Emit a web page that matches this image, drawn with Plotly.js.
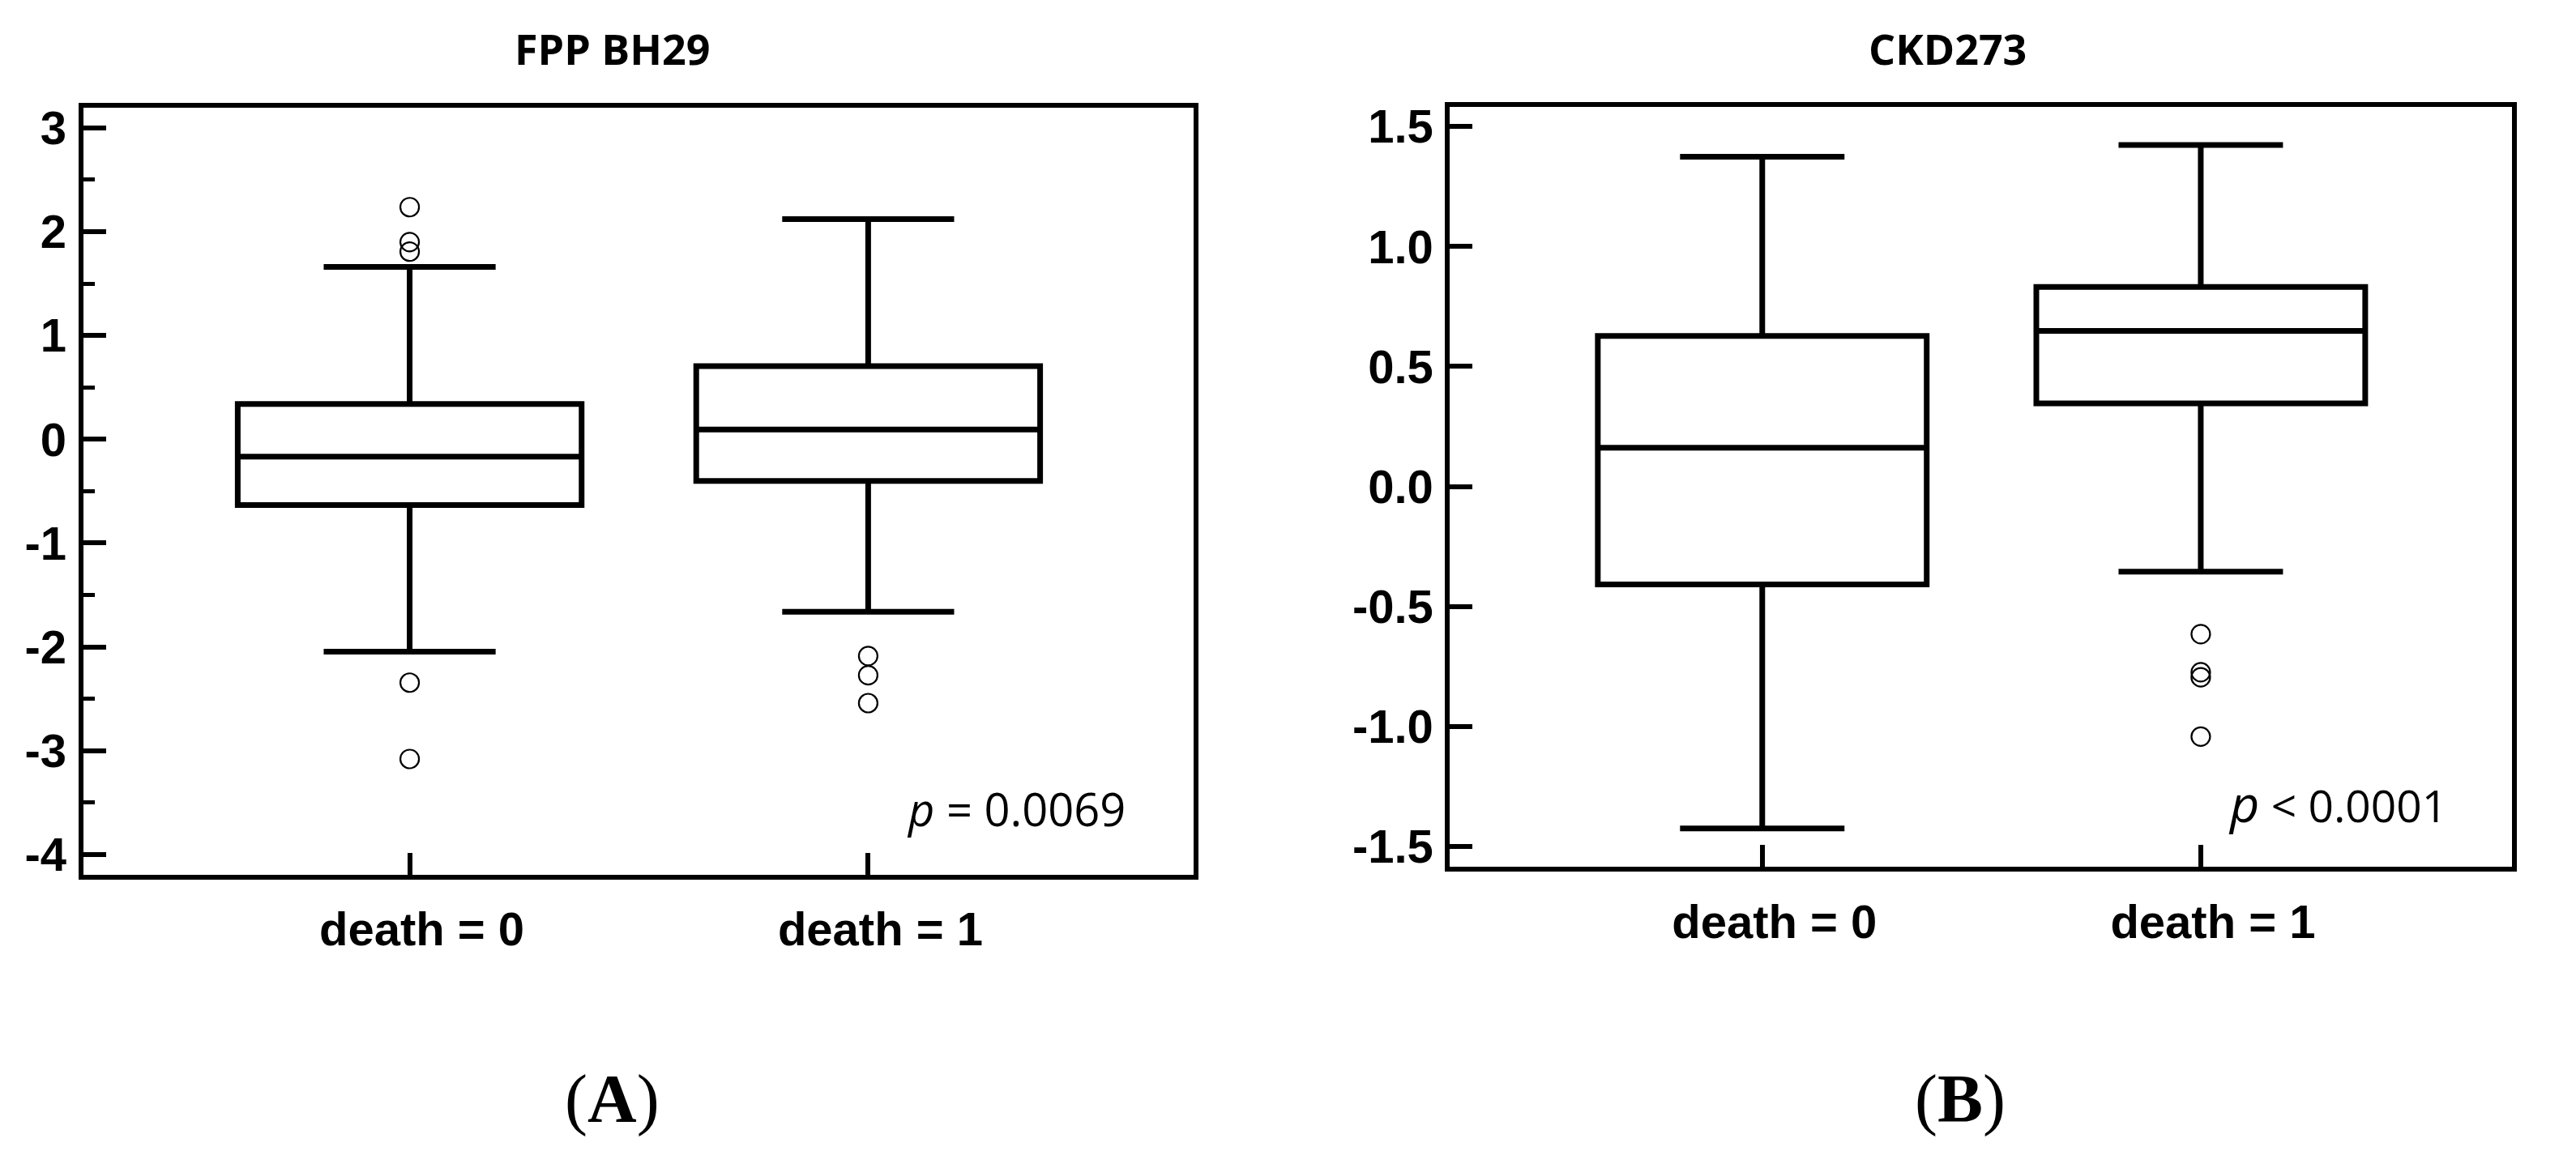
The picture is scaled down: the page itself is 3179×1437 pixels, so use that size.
<!DOCTYPE html>
<html>
<head>
<meta charset="utf-8">
<script src="https://cdn.plot.ly/plotly-3.0.1.min.js"></script>
<style>
  html, body { margin: 0; padding: 0; background: #ffffff; }
  #chart { width: 3179px; height: 1437px; }
</style>
</head>
<body>
<div id="chart"></div>
<script>
// ---------- Data ----------
const categories = ["death = 0", "death = 1"];

// Panel A: FPP BH29
const titleA = "FPP BH29";
const q1A = [-0.634, -0.401];
const medianA = [-0.168, 0.095];
const q3A = [0.340, 0.704];
const lowerA = [-2.045, -1.662];
const upperA = [1.661, 2.121];
const outliersA = [[2.236, 1.900, 1.807, -2.344, -3.079], [-2.087, -2.273, -2.541]];
const yTickValsA = [-4, -3, -2, -1, 0, 1, 2, 3];
const yTickTextA = ["-4", "-3", "-2", "-1", "0", "1", "2", "3"];
const pTextA = "<i>p</i> = 0.0069";

// Panel B: CKD273
const titleB = "CKD273";
const q1B = [-0.408, 0.346];
const medianB = [0.161, 0.648];
const q3B = [0.627, 0.831];
const lowerB = [-1.425, -0.355];
const upperB = [1.374, 1.423];
const outliersB = [[null], [-0.615, -0.774, -0.795, -1.042]];
const yTickValsB = [-1.5, -1.0, -0.5, 0.0, 0.5, 1.0, 1.5];
const yTickTextB = ["-1.5", "-1.0", "-0.5", "0.0", "0.5", "1.0", "1.5"];
const pTextB = "<span style=\"font-size:63px\"><i>p</i></span> &lt; 0.0001";

const panelLabels = ["(<b>A</b>)", "(<b>B</b>)"];

// ---------- Styles ----------
const BLACK = "#000000";
const tickFont = { family: "Liberation Sans, Arial, sans-serif", size: 58, color: BLACK, weight: "bold" };

function boxTrace(q1, med, q3, lo, hi, pts, xa, ya) {
  return {
    type: "box",
    x: categories,
    y: pts,
    q1: q1, median: med, q3: q3,
    lowerfence: lo, upperfence: hi,
    boxpoints: "outliers",
    jitter: 0, pointpos: 0,
    width: 0.75,
    whiskerwidth: 0.5,
    fillcolor: "#ffffff",
    line: { color: BLACK, width: 7 },
    marker: { symbol: "circle-open", size: 23, color: BLACK, line: { width: 2.2, color: BLACK } },
    xaxis: xa, yaxis: ya,
    hoverinfo: "skip"
  };
}

const data = [
  boxTrace(q1A, medianA, q3A, lowerA, upperA, outliersA, "x", "y"),
  boxTrace(q1B, medianB, q3B, lowerB, upperB, outliersB, "x2", "y2")
];

function xAxis(domain, anchor) {
  return {
    domain: domain, anchor: anchor, type: "category",
    range: [-0.712, 1.71],
    ticks: "inside", ticklen: 27, tickwidth: 6, tickcolor: BLACK,
    showline: true, mirror: true, linewidth: 6, linecolor: BLACK,
    showgrid: false, zeroline: false,
    tickfont: tickFont, ticklabelstandoff: 12, ticklabelshift: 15,
    fixedrange: true
  };
}

const layout = {
  width: 3179, height: 1437,
  margin: { l: 0, r: 0, t: 0, b: 0, pad: 0 },
  paper_bgcolor: "#ffffff", plot_bgcolor: "#ffffff",
  showlegend: false,
  xaxis: xAxis([0.0323, 0.4634], "y"),
  xaxis2: xAxis([0.5629, 0.9752], "y2"),
  yaxis: {
    domain: [0.2486, 0.9074], anchor: "x",
    range: [-4.193, 3.193],
    tickmode: "array", tickvals: yTickValsA, ticktext: yTickTextA,
    ticks: "inside", ticklen: 28, tickwidth: 6, tickcolor: BLACK,
    minor: { ticks: "inside", ticklen: 14, tickwidth: 5, tickcolor: BLACK, tickmode: "linear", tick0: 0.5, dtick: 1, showgrid: false },
    showline: true, mirror: true, linewidth: 6, linecolor: BLACK,
    showgrid: false, zeroline: false,
    tickfont: tickFont, ticklabelstandoff: 3,
    fixedrange: true
  },
  yaxis2: {
    domain: [0.2554, 0.9081], anchor: "x2",
    range: [-1.584, 1.581],
    tickmode: "array", tickvals: yTickValsB, ticktext: yTickTextB,
    ticks: "inside", ticklen: 28, tickwidth: 6, tickcolor: BLACK,
    showline: true, mirror: true, linewidth: 6, linecolor: BLACK,
    showgrid: false, zeroline: false,
    tickfont: tickFont, ticklabelstandoff: 3,
    fixedrange: true
  },
  annotations: [
    { text: titleA, xref: "paper", yref: "paper", x: 0.2377, y: 0.9585, xanchor: "center", yanchor: "middle", showarrow: false,
      font: { family: "Open Sans, Noto Sans, sans-serif", size: 52, weight: "bold", color: BLACK } },
    { text: titleB, xref: "paper", yref: "paper", x: 0.7562, y: 0.9585, xanchor: "center", yanchor: "middle", showarrow: false,
      font: { family: "Open Sans, Noto Sans, sans-serif", size: 52, weight: "bold", color: BLACK } },
    { text: pTextA, xref: "paper", yref: "paper", x: 0.3515, y: 0.3055, xanchor: "left", yanchor: "middle", showarrow: false,
      font: { family: "Open Sans, Noto Sans, sans-serif", size: 56, color: BLACK } },
    { text: pTextB, xref: "paper", yref: "paper", x: 0.8645, y: 0.3105, xanchor: "left", yanchor: "middle", showarrow: false,
      font: { family: "Open Sans, Noto Sans, sans-serif", size: 55, color: BLACK } },
    { text: panelLabels[0], xref: "paper", yref: "paper", x: 0.2375, y: 0.0557, xanchor: "center", yanchor: "middle", showarrow: false,
      font: { family: "Liberation Serif, Times New Roman, serif", size: 84, color: BLACK } },
    { text: panelLabels[1], xref: "paper", yref: "paper", x: 0.7609, y: 0.0557, xanchor: "center", yanchor: "middle", showarrow: false,
      font: { family: "Liberation Serif, Times New Roman, serif", size: 84, color: BLACK } }
  ]
};

Plotly.newPlot("chart", data, layout, { staticPlot: true, displayModeBar: false });
</script>
</body>
</html>
